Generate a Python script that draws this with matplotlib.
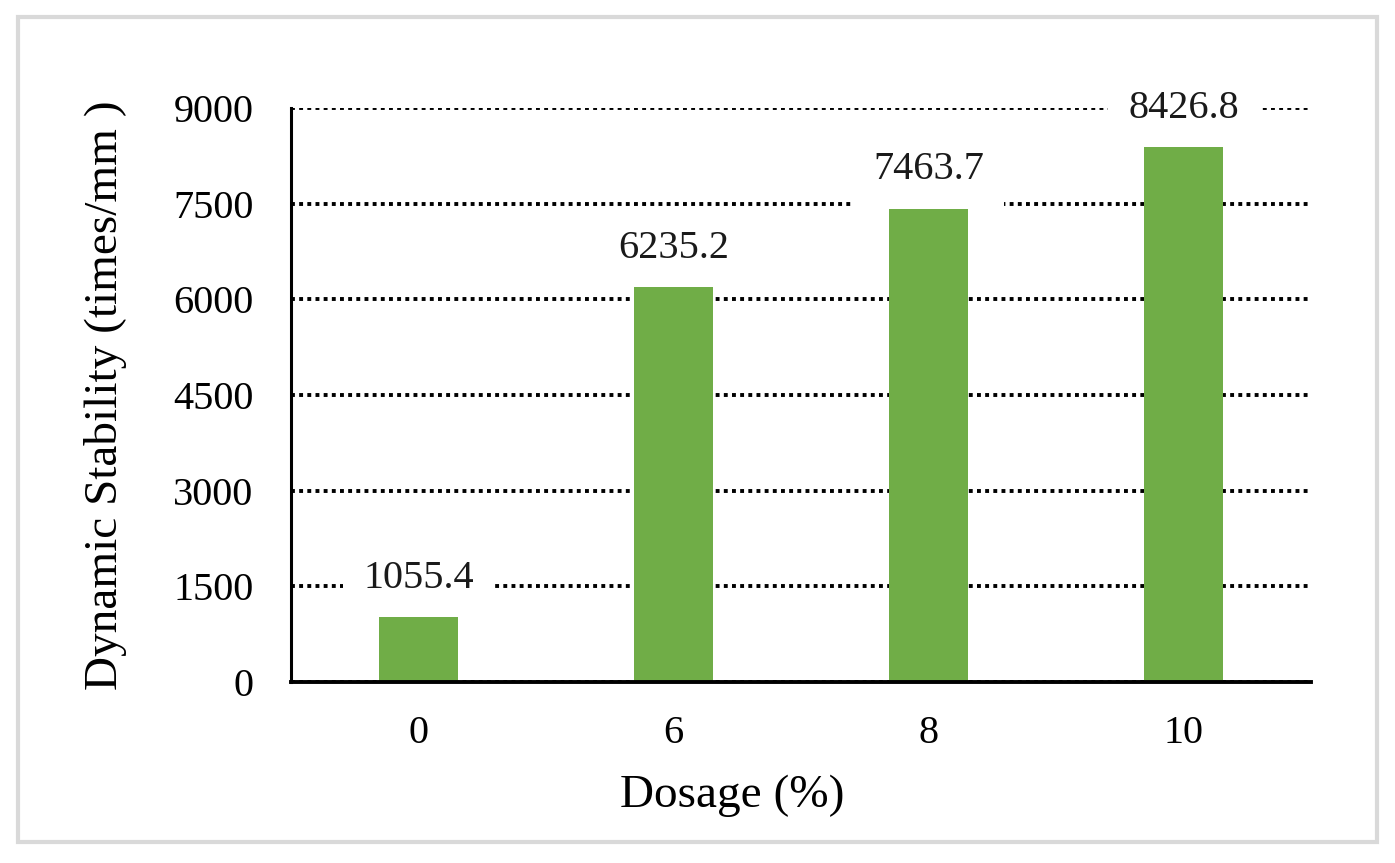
import matplotlib.pyplot as plt
from matplotlib.patches import Rectangle

# Data
dosages = ['0', '6', '8', '10']
stability = [1055.4, 6235.2, 7463.7, 8426.8]
yticks = [0, 1500, 3000, 4500, 6000, 7500, 9000]

plt.rcParams['font.family'] = ['Liberation Serif', 'DejaVu Serif']

fig = plt.figure(figsize=(13.95, 8.63), dpi=100)
ax = fig.add_axes([291 / 1395, 1 - 682 / 863, 1020 / 1395, 574 / 863])

# light grey frame around the whole picture
fig.patches.append(Rectangle((18 / 1395, 1 - 842 / 863), 1359 / 1395, 825 / 863,
                             transform=fig.transFigure, fill=False,
                             edgecolor='#D9D9D9', linewidth=3))

x = range(len(dosages))
bars = ax.bar(x, stability, width=0.31, color='#70AD47', zorder=2)

ax.set_xlim(-0.5, len(dosages) - 0.5)
ax.set_ylim(0, 9000)
ax.set_yticks(yticks)
ax.set_xticks(list(x))
ax.set_xticklabels(dosages)
ax.tick_params(axis='both', length=0, labelsize=29)
ax.tick_params(axis='y', pad=27)
ax.tick_params(axis='x', pad=24)

# dotted gridlines
ax.grid(axis='y', color='black', linestyle=(0, (1, 1.1)), linewidth=2.8, zorder=1)
ax.set_axisbelow(True)

for side in ['top', 'right']:
    ax.spines[side].set_visible(False)
ax.spines['left'].set_linewidth(2.2)
ax.spines['bottom'].set_linewidth(2.8)

# x label sits a bit left of centre in the original
ax.set_xlabel('Dosage (%)', fontsize=34, labelpad=16, x=0.433)
ax.set_ylabel('Dynamic Stability (times/mm )', fontsize=34, labelpad=33)

# value labels with white boxes breaking the gridlines
for rect, val in zip(bars, stability):
    ax.annotate(f'{val:.1f}',
                xy=(rect.get_x() + rect.get_width() / 2, rect.get_height()),
                xytext=(0, 26), textcoords='offset points',
                ha='center', va='center', fontsize=29, color='#1a1a1a',
                bbox=dict(boxstyle='square,pad=0.5', facecolor='white', edgecolor='none'),
                zorder=3)

plt.savefig('out.png', dpi=100)
